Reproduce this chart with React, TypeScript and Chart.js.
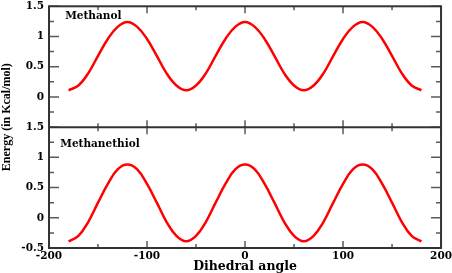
import React, { useEffect, useRef } from "react";
import { Chart, registerables } from "chart.js";

Chart.register(...registerables);

const angles = [
  -180, -170, -160, -150, -140, -130, -120, -110, -100, -90, -80, -70, -60,
  -50, -40, -30, -20, -10, 0, 10, 20, 30, 40, 50, 60,
  70, 80, 90, 100, 110, 120, 130, 140, 150, 160, 170, 180,
];

const methanol = [
  0.11, 0.19, 0.39, 0.68, 0.96, 1.16, 1.24, 1.16, 0.96, 0.68, 0.39, 0.19, 0.11,
  0.19, 0.39, 0.68, 0.96, 1.16, 1.24, 1.16, 0.96, 0.68, 0.39, 0.19, 0.11,
  0.19, 0.39, 0.68, 0.96, 1.16, 1.24, 1.16, 0.96, 0.68, 0.39, 0.19, 0.11,
];

const methanethiol = [
  -0.39, -0.3, -0.07, 0.25, 0.56, 0.8, 0.88, 0.8, 0.56, 0.25, -0.07, -0.3, -0.39,
  -0.3, -0.07, 0.25, 0.56, 0.8, 0.88, 0.8, 0.56, 0.25, -0.07, -0.3, -0.39,
  -0.3, -0.07, 0.25, 0.56, 0.8, 0.88, 0.8, 0.56, 0.25, -0.07, -0.3, -0.39,
];

const xTickValues = [-200, -150, -100, -50, 0, 50, 100, 150, 200];
const yTickValues = [-0.5, -0.25, 0, 0.25, 0.5, 0.75, 1, 1.25, 1.5];

const panelLabels = [
  { text: "Methanol", axis: "yTop", x: -183.5, y: 1.33 },
  { text: "Methanethiol", axis: "yBot", x: -188.5, y: 1.21 },
];

const yTitle = "Energy (in Kcal/mol)";
const xTitle = "Dihedral angle";

const TICK_FONT = { family: "'DejaVu Serif'", size: 10.5, weight: "bold" as const };

const framePlugin = {
  id: "framePlugin",
  afterDraw(chart: any) {
    const ctx = chart.ctx as CanvasRenderingContext2D;
    const { left, right, top, bottom } = chart.chartArea;
    const xs = chart.scales.x;
    const yT = chart.scales.yTop;
    const yB = chart.scales.yBot;
    const sep = yT.bottom;
    ctx.save();
    // ticks
    ctx.strokeStyle = "#5a5a5a";
    ctx.lineWidth = 1.5;
    ctx.beginPath();
    xTickValues.forEach((v) => {
      const px = xs.getPixelForValue(v);
      const major = v % 100 === 0;
      const len = major ? 7 : 4;
      ctx.moveTo(px, bottom);
      ctx.lineTo(px, bottom - len);
      ctx.moveTo(px, top);
      ctx.lineTo(px, top + len);
      ctx.moveTo(px, sep - len);
      ctx.lineTo(px, sep + len);
    });
    [yT, yB].forEach((sc: any) => {
      yTickValues.forEach((v) => {
        const py = sc.getPixelForValue(v);
        const major = Math.abs(v * 2 - Math.round(v * 2)) < 1e-9;
        const len = major ? 10 : 5;
        ctx.moveTo(left, py);
        ctx.lineTo(left + len, py);
        ctx.moveTo(right, py);
        ctx.lineTo(right - len, py);
      });
    });
    ctx.stroke();
    // frame
    ctx.strokeStyle = "#333333";
    ctx.lineWidth = 2;
    ctx.strokeRect(left, top, right - left, bottom - top);
    ctx.beginPath();
    ctx.moveTo(left, sep);
    ctx.lineTo(right, sep);
    ctx.stroke();
    // panel labels
    ctx.fillStyle = "#000";
    ctx.font = "bold 10.5px 'DejaVu Serif'";
    ctx.textAlign = "left";
    ctx.textBaseline = "middle";
    panelLabels.forEach((l) => {
      const sc = chart.scales[l.axis];
      ctx.fillText(l.text, xs.getPixelForValue(l.x), sc.getPixelForValue(l.y));
    });
    // y title
    ctx.translate(7, (top + bottom) / 2 - 10);
    ctx.rotate(-Math.PI / 2);
    ctx.font = "bold 12px 'Liberation Serif'";
    ctx.textAlign = "center";
    ctx.textBaseline = "middle";
    ctx.fillText(yTitle, 0, 0);
    ctx.restore();
  },
};

function yScale(hideBottom: boolean) {
  return {
    type: "linear" as const,
    position: "left" as const,
    stack: "panels",
    stackWeight: 1,
    min: -0.5,
    max: 1.5,
    grid: { display: false, drawTicks: false },
    border: { display: false },
    ticks: {
      stepSize: 0.5,
      padding: 5,
      color: "#000",
      font: TICK_FONT,
      callback: (v: any) => (hideBottom && v === -0.5 ? "" : String(v)),
    },
    afterFit: (s: any) => {
      s.width = 49;
    },
  };
}

const CANVAS_W = 454;
const CANVAS_H = 279;
const SHIFT_Y = -5;

export default function App() {
  const ref = useRef<HTMLCanvasElement>(null);
  useEffect(() => {
    if (!ref.current) return;
    const chart = new Chart(ref.current, {
      type: "line",
      data: {
        datasets: [
          {
            label: "Methanol",
            data: angles.map((a, i) => ({ x: a, y: methanol[i] })),
            yAxisID: "yTop",
            borderColor: "#ff0000",
            borderWidth: 2.5,
            pointRadius: 0,
            tension: 0.4,
            fill: false,
          },
          {
            label: "Methanethiol",
            data: angles.map((a, i) => ({ x: a, y: methanethiol[i] })),
            yAxisID: "yBot",
            borderColor: "#ff0000",
            borderWidth: 2.5,
            pointRadius: 0,
            tension: 0.4,
            fill: false,
          },
        ],
      },
      options: {
        animation: false,
        responsive: false,
        layout: { padding: { top: 0, right: 10, left: 0, bottom: 0 } },
        plugins: { legend: { display: false }, tooltip: { enabled: false } },
        scales: {
          x: {
            type: "linear",
            position: "bottom",
            min: -200,
            max: 200,
            grid: { display: false, drawTicks: false },
            border: { display: false },
            ticks: { stepSize: 100, padding: 2, color: "#000", font: TICK_FONT, maxRotation: 0 },
            title: {
              display: true,
              text: xTitle,
              color: "#000",
              font: { family: "'DejaVu Serif'", size: 12.5, weight: "bold" },
              padding: { top: 0, bottom: 0 },
            },
            afterFit: (s: any) => {
              s.height = 26;
            },
          },
          yBot: yScale(false),
          yTop: yScale(true),
        },
      },
      plugins: [framePlugin],
    });
    return () => chart.destroy();
  }, []);
  return (
    <div
      style={{
        position: "fixed",
        left: 0,
        top: 0,
        width: 452,
        height: 273,
        overflow: "hidden",
        background: "#fff",
      }}
    >
      <canvas
        ref={ref}
        width={CANVAS_W}
        height={CANVAS_H}
        style={{ position: "absolute", left: 0, top: SHIFT_Y }}
      />
    </div>
  );
}
